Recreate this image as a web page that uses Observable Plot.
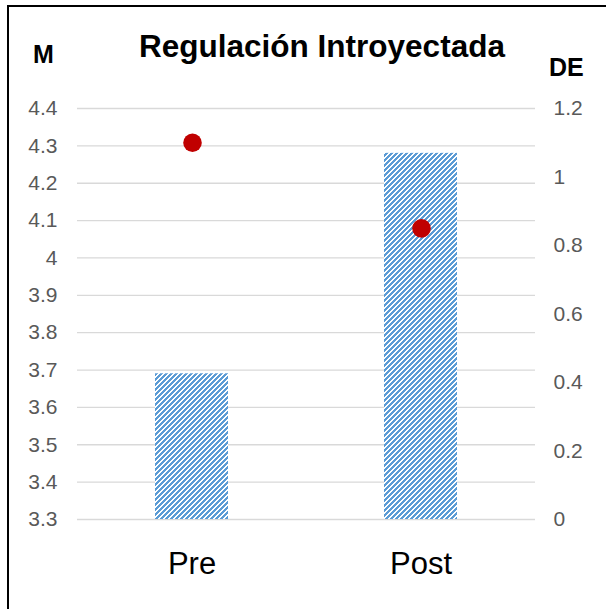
<!DOCTYPE html>
<html>
<head>
<meta charset="utf-8">
<script src="https://cdn.jsdelivr.net/npm/d3@7"></script>
<script src="https://cdn.jsdelivr.net/npm/@observablehq/plot@0.6"></script>
<style>
  html, body { margin: 0; padding: 0; background: #fff; }
  #wrap { position: relative; width: 606px; height: 609px; overflow: hidden; font-family: "Liberation Sans", Arial, sans-serif; }
  #wrap svg { position: absolute; left: 0; top: 0; }
  .frame { position: absolute; left: 7px; top: 5px; width: 640px; height: 640px; border-top: 2.5px solid #000; border-left: 2.5px solid #000; box-sizing: border-box; }
  .lbl { position: absolute; line-height: 1; white-space: nowrap; font-weight: bold; color: #000; }
</style>
</head>
<body>
<div id="wrap">
  <div class="frame"></div>
</div>
<script>
const categories = ["Pre", "Post"];
const meanValues = [3.69, 4.28];
const sdValues = [1.10, 0.85];
const leftTicks = [3.3, 3.4, 3.5, 3.6, 3.7, 3.8, 3.9, 4, 4.1, 4.2, 4.3, 4.4];
const rightTicks = [0, 0.2, 0.4, 0.6, 0.8, 1, 1.2];
const titleText = "Regulación Introyectada";
const leftLabel = "M";
const rightLabel = "DE";

const data = categories.map((c, i) => ({cat: c, m: meanValues[i], de: sdValues[i]}));

const dims = {width: 606, height: 609, marginLeft: 77, marginRight: 71, marginTop: 108, marginBottom: 90};
const xOpts = {domain: categories, paddingInner: 0.68, paddingOuter: 0.34, align: 0.5, label: null};
const fontFamily = "'Liberation Sans', Arial, sans-serif";

const base = Plot.plot({
  ...dims,
  style: {background: "transparent", fontFamily, overflow: "visible"},
  x: xOpts,
  y: {domain: [leftTicks[0], leftTicks[leftTicks.length - 1]], label: null},
  marks: [
    Plot.ruleY(leftTicks, {stroke: "#d9d9d9", strokeWidth: 1.3}),
    Plot.barY(data, {x: "cat", y1: () => leftTicks[0], y2: "m", fill: "url(#hatch)"}),
    Plot.axisY(leftTicks, {tickSize: 0, tickPadding: 20, fontSize: 21, fill: "#595959", tickFormat: d => String(d), label: null}),
    Plot.axisX({tickSize: 0, tickPadding: 32, fontSize: 31, fill: "#000", label: null})
  ]
});
base.insertAdjacentHTML("afterbegin",
  `<defs><pattern id="hatch" patternUnits="userSpaceOnUse" width="5" height="5">
     <rect width="5" height="5" fill="#fff"/>
     <path d="M-1.25,1.25 l2.5,-2.5 M0,5 l5,-5 M3.75,6.25 l2.5,-2.5" stroke="#5b9bd5" stroke-width="1.6" shape-rendering="crispEdges"/>
   </pattern></defs>`);

const over = Plot.plot({
  ...dims,
  style: {background: "transparent", fontFamily, overflow: "visible"},
  x: {...xOpts, axis: null},
  y: {domain: [rightTicks[0], rightTicks[rightTicks.length - 1]], label: null},
  marks: [
    Plot.dot(data, {x: "cat", y: "de", r: 9.3, fill: "#c00000"}),
    Plot.axisY(rightTicks, {anchor: "right", tickSize: 0, tickPadding: 18, fontSize: 21, fill: "#595959", tickFormat: d => String(d), label: null})
  ]
});

const wrap = document.getElementById("wrap");
wrap.appendChild(base);
wrap.appendChild(over);

function addLabel(text, left, top, size, center) {
  const d = document.createElement("div");
  d.className = "lbl";
  d.textContent = text;
  d.style.fontSize = size + "px";
  d.style.top = top + "px";
  if (center) { d.style.left = (left - 300) + "px"; d.style.width = "600px"; d.style.textAlign = "center"; }
  else d.style.left = left + "px";
  wrap.appendChild(d);
}
addLabel(titleText, 322, 31, 31.5, true);
addLabel(leftLabel, 33, 42, 25, false);
addLabel(rightLabel, 549, 55, 25, false);
</script>
</body>
</html>
